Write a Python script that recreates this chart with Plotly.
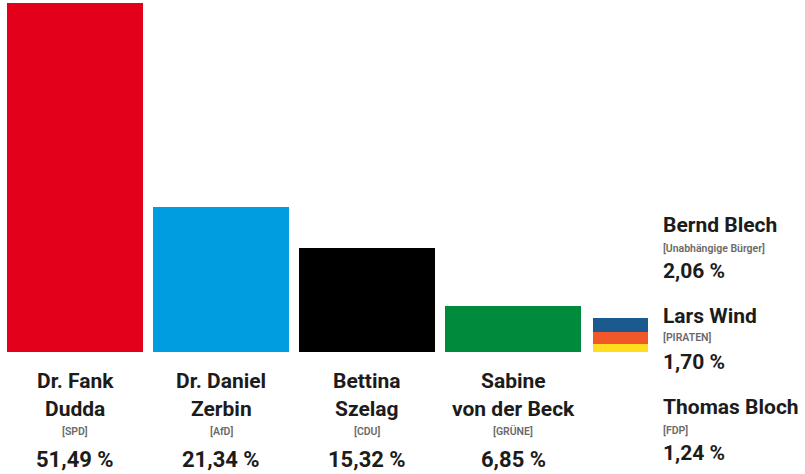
import plotly.graph_objects as go

# ---- data ----
main_names = [["Dr. Fank", "Dudda"], ["Dr. Daniel", "Zerbin"], ["Bettina", "Szelag"], ["Sabine", "von der Beck"]]
main_parties = ["[SPD]", "[AfD]", "[CDU]", "[GRÜNE]"]
main_values = [51.49, 21.34, 15.32, 6.85]
main_colors = ["#e2001a", "#009ee0", "#000000", "#008a3c"]

small_names = ["Bernd Blech", "Lars Wind", "Thomas Bloch"]
small_parties = ["[Unabhängige Bürger]", "[PIRATEN]", "[FDP]"]
small_values = [2.06, 1.70, 1.24]
small_colors = ["#1b5a8f", "#f0582a", "#ffdd1f"]

def fmt(v):
    return f"{v:.2f}".replace(".", ",") + " %"

W, H = 805, 474
top, bottom = 3, 122
plot_h = H - top - bottom

def py(p):
    # pixel y -> paper y
    return (H - bottom - p) / plot_h

fig = go.Figure()
main_x = [0, 1, 2, 3]
fig.add_trace(go.Bar(x=main_x, y=main_values, marker=dict(color=main_colors, line=dict(width=0)),
                     width=0.938, hoverinfo="skip", showlegend=False))

small_x = 3.736
# stacked from bottom: FDP (yellow), PIRATEN (orange), Unabhängige (blue)
for i in [2, 1, 0]:
    fig.add_trace(go.Bar(x=[small_x], y=[small_values[i]], marker=dict(color=small_colors[i], line=dict(width=0)),
                         width=0.377, hoverinfo="skip", showlegend=False))

txt = "#1c1c1c"
ptxt = "#6a6a6a"
ff = "Roboto"
ann = []
for i, x in enumerate(main_x):
    ann.append(dict(x=x, y=py(380.5), xref="x", yref="paper", text=main_names[i][0], showarrow=False,
                    xanchor="center", yanchor="middle", font=dict(family=ff, size=21, color=txt, weight=700)))
    ann.append(dict(x=x, y=py(408.5), xref="x", yref="paper", text=main_names[i][1], showarrow=False,
                    xanchor="center", yanchor="middle", font=dict(family=ff, size=21, color=txt, weight=700)))
    ann.append(dict(x=x, y=py(431), xref="x", yref="paper", text=main_parties[i], showarrow=False,
                    xanchor="center", yanchor="middle", font=dict(family=ff, size=10.5, color=ptxt, weight=600)))
    ann.append(dict(x=x, y=py(459.5), xref="x", yref="paper", text=fmt(main_values[i]), showarrow=False,
                    xanchor="center", yanchor="middle", font=dict(family=ff, size=22, color=txt, weight=700)))

rx = 661 / W
name_y = [225.5, 315.5, 407]
party_y = [249, 337, 430]
val_y = [271, 362, 453]
for i in range(3):
    ann.append(dict(x=rx, y=py(name_y[i]), xref="paper", yref="paper", text=small_names[i], showarrow=False,
                    xanchor="left", yanchor="middle", font=dict(family=ff, size=21, color=txt, weight=700)))
    ann.append(dict(x=rx, y=py(party_y[i]), xref="paper", yref="paper", text=small_parties[i], showarrow=False,
                    xanchor="left", yanchor="middle", font=dict(family=ff, size=10.5, color=ptxt, weight=600)))
    ann.append(dict(x=rx, y=py(val_y[i]), xref="paper", yref="paper", text=fmt(small_values[i]), showarrow=False,
                    xanchor="left", yanchor="middle", font=dict(family=ff, size=21, color=txt, weight=700)))

x0 = -75 / 146
x1 = (W - 75) / 146
fig.update_layout(
    width=W, height=H, barmode="stack",
    margin=dict(l=0, r=0, t=top, b=bottom),
    paper_bgcolor="white", plot_bgcolor="white",
    xaxis=dict(range=[x0, x1], visible=False, fixedrange=True),
    yaxis=dict(range=[0, 51.49], visible=False, fixedrange=True),
    annotations=ann,
)
fig.write_html("out.html", config={"displayModeBar": False},
               post_script="document.body.style.margin='0';document.body.style.overflow='hidden';")
